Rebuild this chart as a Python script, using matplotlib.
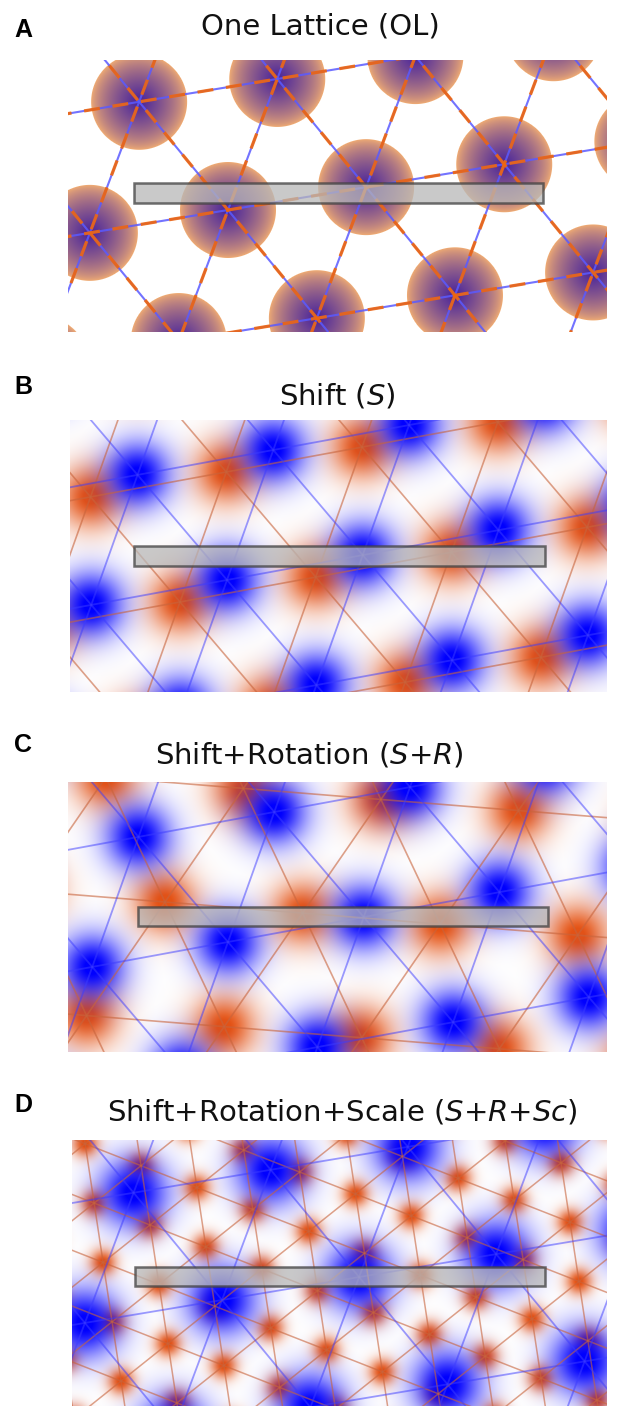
import numpy as np
import matplotlib.pyplot as plt
from matplotlib.patches import Rectangle

# lattice parameters per panel: (x0, y0, spacing, angle in degrees), panel pixel units, y down
lattice_ol = (160, 150, 140, -9.4)
shift_blue = (157, 160, 138, -10.4)
shift_orange = (110, 182, 138, -10.4)
rot_blue = (160, 160, 138, -10.4)
rot_orange = (97, 120, 138, 4.6)
scale_blue = (150, 160, 139, -9.5)
scale_orange = (78, 85, 60, 21.4)

letters = ['A', 'B', 'C', 'D']
titles = ['One Lattice (OL)', 'Shift ($S$)', 'Shift+Rotation ($S$+$R$)',
          'Shift+Rotation+Scale ($S$+$R$+$Sc$)']

# grey read-out bar per panel: (left, top, width, height)
bars = [(66, 123, 409, 20), (64, 126, 411, 20), (70, 125, 410, 19), (63, 127, 410, 19)]

FW, FH = 621, 1406
# panel boxes in figure pixels: left, top, width, height
boxes = [(68, 60, 539, 272), (70, 420, 537, 272), (68, 782, 539, 270), (72, 1140, 535, 266)]
title_pos = [(320, 26), (337, 396), (309, 755), (342, 1112)]
letter_pos = [(23, 30), (23, 387), (23, 745), (23, 1105)]

BLUE = np.array([0, 0, 255]) / 255
ORANGE = np.array([230, 84, 20]) / 255


def lattice(params, w, h):
    x0, y0, s, ang = params
    t = np.deg2rad(ang)
    a1 = s * np.array([np.cos(t), np.sin(t)])
    a2 = s * np.array([np.cos(t + np.pi / 3), np.sin(t + np.pi / 3)])
    n = int(max(w, h) / s) + 4
    i, j = np.meshgrid(np.arange(-n, n + 1), np.arange(-n, n + 1))
    px = x0 + i * a1[0] + j * a2[0]
    py = y0 + i * a1[1] + j * a2[1]
    keep = (px > -s) & (px < w + s) & (py > -s) & (py < h + s)
    return px[keep], py[keep], a1, a2, n


def nearest_r(params, w, h):
    px, py, _, _, _ = lattice(params, w, h)
    xx, yy = np.meshgrid(np.arange(w) + 0.5, np.arange(h) + 0.5)
    r2 = np.full((h, w), np.inf)
    for x, y in zip(px, py):
        r2 = np.minimum(r2, (xx - x) ** 2 + (yy - y) ** 2)
    return np.sqrt(r2)


def blob(r, radius):
    # soft spot fading out towards ~1.5 * radius
    return np.clip(1.05 * np.exp(-(r / radius) ** 2), 0, 1)


def blend(img, alpha, color):
    a = np.clip(alpha, 0, 1)[..., None]
    return img * (1 - a) + a * color


def draw_lines(ax, params, w, h, **kw):
    x0, y0, s, ang = params
    _, _, a1, a2, n = lattice(params, w, h)
    p0 = np.array([x0, y0])
    L = 3000
    for d, step in [(a1, a2), (a2, a1), (a2 - a1, a1)]:
        u = d / np.linalg.norm(d)
        for k in range(-n, n + 1):
            p = p0 + k * step
            ax.plot([p[0] - L * u[0], p[0] + L * u[0]],
                    [p[1] - L * u[1], p[1] + L * u[1]], **kw)


fig = plt.figure(figsize=(FW / 100, FH / 100), dpi=100)
axes = []
for (l, t, w, h) in boxes:
    ax = fig.add_axes([l / FW, 1 - (t + h) / FH, w / FW, h / FH])
    ax.set_xlim(0, w)
    ax.set_ylim(h, 0)
    ax.axis('off')
    axes.append(ax)

# A: both lattices on top of each other
w, h = boxes[0][2], boxes[0][3]
r = nearest_r(lattice_ol, w, h)
img = np.ones((h, w, 3))
disk = np.clip(48.5 - r, 0, 1)
img = blend(img, disk * 0.95, np.array([242, 170, 108]) / 255)
img = blend(img, disk * 0.95 * np.clip(1 - r / 48, 0, 1) ** 0.7,
            np.array([62, 28, 158]) / 255)
axes[0].imshow(img, extent=(0, w, h, 0), aspect='auto', interpolation='bilinear')
draw_lines(axes[0], lattice_ol, w, h, color='#5a5aff', lw=1.5, alpha=0.85)
draw_lines(axes[0], lattice_ol, w, h, color='#f0660c', lw=2.3, alpha=0.9,
           ls=(0, (5, 4)))

# B, C, D: blue and orange lattices
pairs = [(shift_blue, shift_orange, 32, 31, 1.2),
         (rot_blue, rot_orange, 32, 31, 1.2),
         (scale_blue, scale_orange, 34, 13, 1.1)]
for ax, (l, t, w, h), (pb, po, sb, so, lw) in zip(axes[1:], boxes[1:], pairs):
    rb = nearest_r(pb, w, h)
    ro = nearest_r(po, w, h)
    img = np.ones((h, w, 3))
    img = blend(img, blob(ro, so), ORANGE)
    img = blend(img, blob(rb, sb), BLUE)
    ax.imshow(img, extent=(0, w, h, 0), aspect='auto', interpolation='bilinear')
    draw_lines(ax, po, w, h, color='#c8643c', lw=lw, alpha=0.6)
    draw_lines(ax, pb, w, h, color='#3c3cff', lw=1.3, alpha=0.5)

for ax, (bx, by, bw, bh) in zip(axes, bars):
    ax.add_patch(Rectangle((bx, by), bw, bh, facecolor='#b8b8b8', alpha=0.75,
                           edgecolor='#404040', lw=1.8, zorder=5))

for (x, y), txt in zip(title_pos, titles):
    fig.text(x / FW, 1 - y / FH, txt, ha='center', va='center', fontsize=21,
             color='#111111')
for (x, y), txt in zip(letter_pos, letters):
    fig.text(x / FW, 1 - y / FH, txt, ha='center', va='center', fontsize=18,
             fontweight='bold', family='Liberation Sans')

fig.savefig('out.png', dpi=100)
